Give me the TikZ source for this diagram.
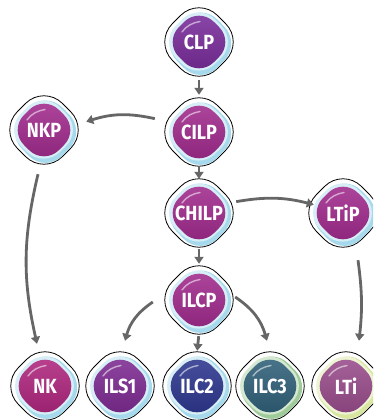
\documentclass[tikz,border=0pt]{standalone}
\usepackage{fontspec}
\newfontfamily\lblfont{Fira Sans}[FakeStretch=0.88]
\usetikzlibrary{arrows.meta}
\definecolor{arrgray}{HTML}{666666}
\definecolor{cviolet}{HTML}{7A2A9B}
\definecolor{cmag}{HTML}{A3288E}
\definecolor{cnk}{HTML}{B0237E}
\definecolor{cils}{HTML}{7D2892}
\definecolor{cilctwo}{HTML}{2B3590}
\definecolor{cilcthree}{HTML}{2D5F78}
\definecolor{clti}{HTML}{9A4B8C}
\definecolor{hblue}{HTML}{A6D9EC}
\definecolor{hgreen}{HTML}{9FCB9A}
\definecolor{hyellow}{HTML}{D8E6A0}
\tikzset{
  lbl/.style={circle, minimum size=66pt, inner sep=0pt, text=white,
    font=\lblfont\bfseries\fontsize{20.5}{20.5}\selectfont},
  arr/.style={draw=arrgray, line width=2.8pt, -{Triangle[length=7pt,width=9pt]}},
}
\newcommand\cellbody[4]{%
  \begin{scope}[shift={(#1,#2)}]
    \draw[line width=0.8pt, fill=white, rounded corners=26pt]
      (0,45) -- (45,0) -- (0,-45) -- (-45,0) -- cycle;
    \fill[#4, rounded corners=24pt]
      (1.5,39.5) -- (42,-1.5) -- (1.5,-43) -- (-39,-1.5) -- cycle;
    \fill[white!55!#4, rounded corners=23pt]
      (-0.5,39) -- (38.5,0) -- (-0.5,-38) -- (-39.5,0) -- cycle;
    \shade[top color=#3!85!white, bottom color=#3!85!black, rounded corners=21pt]
      (0,35) -- (35,0) -- (0,-35) -- (-35,0) -- cycle;
    \draw[white, opacity=0.55, line width=1.4pt, line cap=round]
      (-17,10) .. controls (-13,16) and (-6,19.5) .. (1,20.5);
  \end{scope}}
\begin{document}
\begin{tikzpicture}[x=1pt,y=1pt]
\useasboundingbox (0,-420) rectangle (373,0);
\clip (0,-420) rectangle (373,0);
% cell bodies
\cellbody{199}{-42}{cviolet}{hblue}
\cellbody{199}{-132}{cmag}{hblue}
\cellbody{44}{-130}{cmag}{hblue}
\cellbody{199}{-213}{cmag}{hblue}
\cellbody{343}{-213}{cmag}{hblue}
\cellbody{199}{-300}{cmag}{hblue}
\cellbody{45}{-386}{cnk}{hblue}
\cellbody{120}{-386}{cils}{hblue}
\cellbody{197}{-386}{cilctwo}{hblue}
\cellbody{270}{-386}{cilcthree}{hgreen}
\cellbody{346}{-386}{clti}{hyellow}
% labels
\node[lbl] (clp) at (199,-42) {CLP};
\node[lbl] (cilp) at (199,-132) {CILP};
\node[lbl] (nkp) at (44,-130) {NKP};
\node[lbl] (chilp) at (199,-213) {CHILP};
\node[lbl] (ltip) at (343,-213) {LTiP};
\node[lbl] (ilcp) at (199,-300) {ILCP};
\node[lbl] (nk) at (45,-386) {NK};
\node[lbl] (ils) at (120,-386) {ILS1};
\node[lbl] (ilctwo) at (197,-386) {ILC2};
\node[lbl] (ilcthree) at (270,-386) {ILC3};
\node[lbl] (lti) at (346,-386) {LTi};
% connectors
\draw[arr, shorten <=5pt, shorten >=4pt] (clp.south) -- (cilp.north);
\draw[arr, shorten <=1pt, shorten >=1pt] (cilp.south) -- (chilp.north);
\draw[arr, shorten <=3pt, shorten >=3pt] (chilp.south) -- (ilcp.north);
\draw[arr, shorten <=3pt, shorten >=2pt] (ilcp.south) -- (ilctwo.north);
\draw[arr] ([shift={(-13,2)}]cilp.160) to[bend right=15] ([shift={(11,-3)}]nkp.20);
\draw[arr] ([shift={(6,0)}]chilp.20) to[bend left=12] ([shift={(2,-3)}]ltip.160);
\draw[arr] ([shift={(-6,-11)}]nkp.south) to[bend right=13] ([shift={(-8,9)}]nk.north);
\draw[arr] ([shift={(15,-14)}]ltip.south) to[bend left=7] ([shift={(13,12)}]lti.north);
\draw[arr] ([shift={(-13,-2)}]ilcp.west) to[bend right=20] ([shift={(5,12)}]ils.north);
\draw[arr] ([shift={(3,3)}]ilcp.east) to[bend left=20] ([shift={(-3,12)}]ilcthree.north);
\end{tikzpicture}
\end{document}
